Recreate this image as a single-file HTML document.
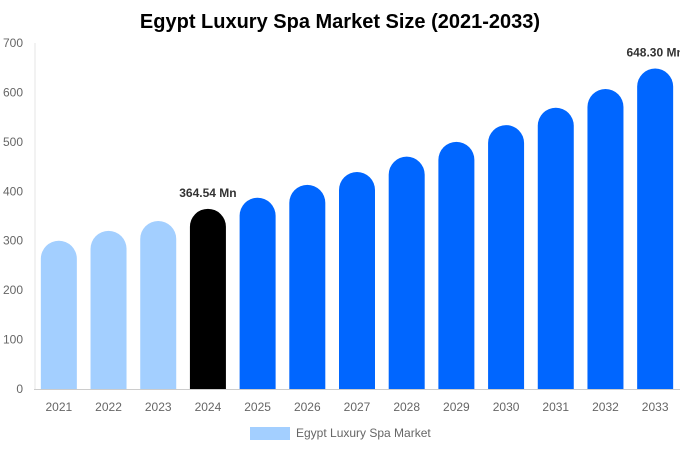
<!DOCTYPE html>
<html><head><meta charset="utf-8"><style>
body{margin:0;background:#fff;font-family:"Liberation Sans",sans-serif}
</style></head><body>
<svg id="chart" width="680" height="450" xmlns="http://www.w3.org/2000/svg">
<text x="340" y="28" text-anchor="middle" font-size="20" font-weight="bold" fill="#000">Egypt Luxury Spa Market Size (2021-2033)</text>
<g id="yaxis"></g><g id="bars"></g><g id="xaxis"></g>
<g>
<rect x="250" y="427" width="40" height="13" fill="#a3cfff"/>
<text x="296" y="437" font-size="12" fill="#666">Egypt Luxury Spa Market</text>
</g>
</svg>
<script>
const categories=["2021","2022","2023","2024","2025","2026","2027","2028","2029","2030","2031","2032","2033"];
const values=[300,320,340,364.54,387,413,439,470,500,534,569,607,648.3];
const colors=["#a3cfff","#a3cfff","#a3cfff","#000000","#0066ff","#0066ff","#0066ff","#0066ff","#0066ff","#0066ff","#0066ff","#0066ff","#0066ff"];
const labels={"3":"364.54 Mn","12":"648.30 Mn"};
const yTicks=[0,100,200,300,400,500,600,700];
const NS="http://www.w3.org/2000/svg";
const x0=34,x1=680,yBase=389,yTop=43,yMax=700;
const y=v=>yBase-(v/yMax)*(yBase-yTop);
const step=(x1-x0)/categories.length;
const xc=i=>x0+step*(i+0.5);
function mk(tag,attrs,parent){const e=document.createElementNS(NS,tag);for(const k in attrs)e.setAttribute(k,attrs[k]);parent.appendChild(e);return e;}
const ya=document.getElementById('yaxis');
yTicks.forEach(t=>{const tx=mk('text',{x:23,y:y(t)+4,'text-anchor':'end','font-size':12,fill:'#666'},ya);tx.textContent=t;

});
const ax=mk('line',{x1:x0+1,x2:x0+1,y1:yTop,y2:yBase,stroke:'#e6e6e6'},ya);


const bl=mk('line',{x1:x0,x2:x1,y1:yBase+0.5,y2:yBase+0.5,stroke:'#ccc'},ya);


const bg=document.getElementById('bars'),xa=document.getElementById('xaxis');
const w=36,r=18;
categories.forEach((c,i)=>{
 const cx=xc(i),top=y(values[i]),l=cx-w/2;
 const p=mk('path',{d:`M${l},${yBase} L${l},${top+r} A${r},${r} 0 0 1 ${l+w},${top+r} L${l+w},${yBase} Z`,fill:colors[i]},bg);
 
 
 const t=mk('text',{x:cx,y:411,'text-anchor':'middle','font-size':12,fill:'#666'},xa);t.textContent=c;
 
 
 if(labels[i]){const lt=mk('text',{x:cx,y:top-12,'text-anchor':'middle','font-size':12,'font-weight':'bold',fill:'#333'},bg);lt.textContent=labels[i];
 
 }
});
</script>
</body></html>
